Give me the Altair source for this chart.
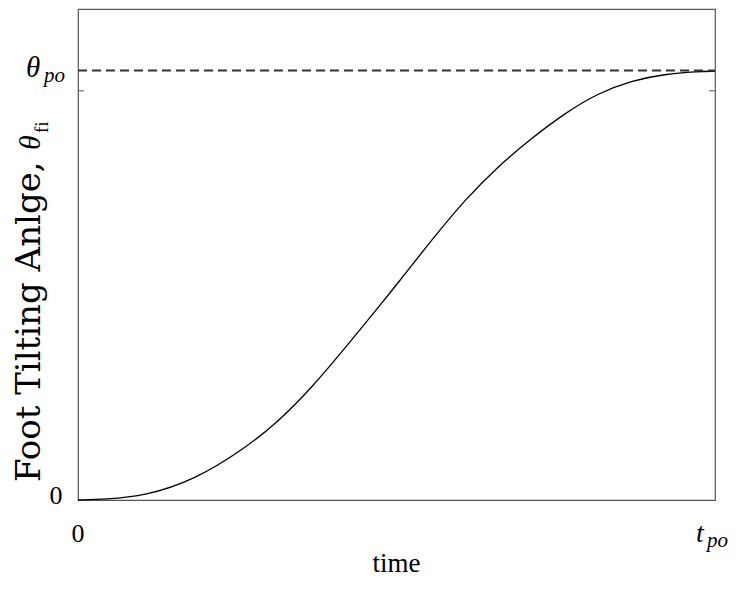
import altair as alt
import pandas as pd

# values
t_vals = [0, 0.042, 0.105, 0.183, 0.262, 0.314, 0.366, 0.419, 0.481, 0.502,
          0.555, 0.607, 0.659, 0.712, 0.764, 0.816, 0.869, 0.921, 0.973, 1.0]
theta_vals = [0, 0.0017, 0.0098, 0.049, 0.126, 0.191, 0.273, 0.371, 0.489, 0.530,
              0.635, 0.733, 0.815, 0.884, 0.945, 0.994, 1.025, 1.041, 1.047, 1.048]
theta_po = 1.05
tick_y = [1.0]
x_domain = [0, 1]
y_domain = [0, 1.2]

SERIF = "Liberation Serif"
W, H = 637, 491

df = pd.DataFrame({"t": t_vals, "theta": theta_vals})

xs = alt.Scale(domain=x_domain, nice=False, zero=False)
ys = alt.Scale(domain=y_domain, nice=False, zero=False)

curve = alt.Chart(df).mark_line(color="black", strokeWidth=1.3, interpolate="basis").encode(
    x=alt.X("t:Q", scale=xs, axis=None),
    y=alt.Y("theta:Q", scale=ys, axis=None),
)

dash = alt.Chart(pd.DataFrame({"y": [theta_po], "x0": [x_domain[0]], "x1": [x_domain[1]]})).mark_rule(
    color="#333333", strokeWidth=2, strokeDash=[9, 5]
).encode(
    x=alt.X("x0:Q", scale=xs, axis=None),
    x2="x1:Q",
    y=alt.Y("y:Q", scale=ys, axis=None),
)

tickdf = pd.DataFrame({"y": tick_y})
tick_l = alt.Chart(tickdf).mark_rule(color="#555555", strokeWidth=1).encode(
    x=alt.value(0), x2=alt.value(6), y=alt.Y("y:Q", scale=ys, axis=None)
)
tick_r = alt.Chart(tickdf).mark_rule(color="#555555", strokeWidth=1).encode(
    x=alt.value(W - 6), x2=alt.value(W), y=alt.Y("y:Q", scale=ys, axis=None)
)


def txt(text, size, x, y, dx=0, dy=0, align="left", italic=False, angle=0,
        baseline="alphabetic", font=SERIF):
    kw = dict(text=text, font=font, fontSize=size, color="black", align=align,
              baseline=baseline, dx=dx, dy=dy)
    if italic:
        kw["fontStyle"] = "italic"
    if angle:
        kw["angle"] = angle
    return alt.Chart(pd.DataFrame({"a": [0]})).mark_text(**kw).encode(x=x, y=y)


labels = [
    # y tick labels
    txt("0", 26, alt.value(-22), alt.datum(0, scale=ys), dy=4, align="center"),
    txt("θ", 29, alt.value(-52), alt.datum(theta_po, scale=ys), dy=7, italic=True),
    txt("po", 21, alt.value(-34), alt.datum(theta_po, scale=ys), dy=12, italic=True),
    # x tick labels
    txt("0", 26, alt.datum(0, scale=xs), alt.value(H), dy=42, align="center"),
    txt("t", 28, alt.datum(1, scale=xs), alt.value(H), dx=-19, dy=42, italic=True),
    txt("po", 21, alt.datum(1, scale=xs), alt.value(H), dx=-8, dy=47, italic=True),
    # axis titles
    txt("time", 27, alt.value(W / 2), alt.value(H), dy=72, align="center"),
    txt("Foot Tilting Anlge,", 34, alt.value(-38), alt.value(473), align="left", angle=270,
        font="DejaVu Serif"),
    txt("θ", 30, alt.value(-38), alt.value(141), align="left", italic=True, angle=270),
    txt("fi", 19, alt.value(-30), alt.value(124), align="left", angle=270),
]

chart = alt.layer(curve, dash, tick_l, tick_r, *labels).properties(
    width=W,
    height=H,
    padding={"left": 70, "top": 1, "right": 24, "bottom": 80},
    autosize=alt.AutoSizeParams(type="none"),
).configure_view(stroke="#555555", strokeWidth=1.2)

chart.save("out.html", embed_options={"renderer": "svg", "actions": False})
